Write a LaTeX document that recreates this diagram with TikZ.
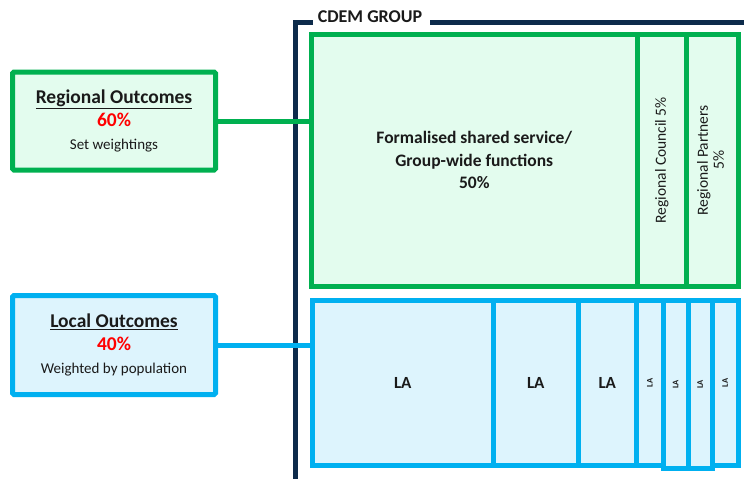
\documentclass[tikz,border=0pt]{standalone}
\usepackage{fontspec}
\setmainfont{Carlito}
\usepackage{tikz}
\usetikzlibrary{calc}
\definecolor{outgreen}{HTML}{00B050}
\definecolor{palegreen}{HTML}{E3FCEE}
\definecolor{outblue}{HTML}{00B0F0}
\definecolor{paleblue}{HTML}{DDF4FD}
\definecolor{groupnavy}{HTML}{0D2B4B}
\definecolor{pctred}{HTML}{FF0000}
\definecolor{inktext}{HTML}{1A1A1A}

\tikzset{
  greenbox/.style={draw=outgreen,fill=palegreen,line width=5pt,inner sep=0pt,align=center,text=inktext},
  bluebox/.style={draw=outblue,fill=paleblue,line width=5pt,inner sep=0pt,align=center,text=inktext},
  outcome/.style={rounded corners=1.5pt,minimum width=203pt,font=\fontsize{19.5}{23}\selectfont},
  greenlink/.style={draw=outgreen,line width=5pt},
  bluelink/.style={draw=outblue,line width=5pt},
  frame/.style={draw=groupnavy,line width=5pt},
}

\begin{document}
\begin{tikzpicture}[x=1pt,y=-1pt]
  \useasboundingbox (0,0) rectangle (744,479);
  % group frame
  \node[text=inktext,font=\bfseries\fontsize{18}{20}\selectfont,inner sep=0pt] (grp) at (370,17) {CDEM GROUP};
  \draw[frame] ($(grp.west)+(-5,5)$) -- (295.5,22) -- (295.5,485);
  \draw[frame] ($(grp.east)+(8,5)$) -- (750,22);
  % outcome boxes
  \node[greenbox,outcome,minimum height=98pt] (reg) at (114,121)
    {\textbf{\underline{Regional Outcomes}}\\{\bfseries\color{pctred}60\%}\\{\fontsize{15}{16}\selectfont Set weightings}};
  \node[bluebox,outcome,minimum height=99pt] (loc) at (114,345)
    {\textbf{\underline{Local Outcomes}}\\{\bfseries\color{pctred}40\%}\\{\fontsize{15}{16}\selectfont Weighted by population}};
  % regional block
  \node[greenbox,minimum width=325.5pt,minimum height=251.5pt,font=\bfseries\fontsize{17.5}{22.5}\selectfont] (shared) at (474.25,160.25)
    {Formalised shared service/\\Group-wide functions\\50\%};
  \node[greenbox,minimum width=49.5pt,minimum height=251.5pt,font=\fontsize{15.5}{18}\selectfont] (council) at (661.75,160.25)
    {\rotatebox{90}{Regional Council 5\%}};
  \node[greenbox,minimum width=51.5pt,minimum height=251.5pt,font=\fontsize{15.5}{18}\selectfont] (partners) at (712.25,160.25)
    {\rotatebox{90}{\begin{tabular}{@{}c@{}}Regional Partners\\[-2pt]5\%\end{tabular}}};
  % local authorities
  \foreach \a/\b/\n in {312/493.5/1,493.5/578/2,578/636.5/3}
    \node[bluebox,minimum width={\b-\a},minimum height=165pt,font=\bfseries\fontsize{17}{18}\selectfont] (la\n) at ({(\a+\b)/2},383) {LA};
  \foreach \a/\b/\n/\d in {636.5/663/4/0,712/738/7/0,663/688/5/1.5,688/712/6/1.5}
    \node[bluebox,minimum width={\b-\a},minimum height={165+2*\d},font=\bfseries\fontsize{8.5}{9}\selectfont] (la\n) at ({(\a+\b)/2},{383+\d}) {\rotatebox{90}{LA}};
  % links
  \draw[greenlink] (reg.east) -- (reg.east -| shared.west);
  \draw[bluelink] (loc.east) -- (loc.east -| la1.west);
\end{tikzpicture}
\end{document}
